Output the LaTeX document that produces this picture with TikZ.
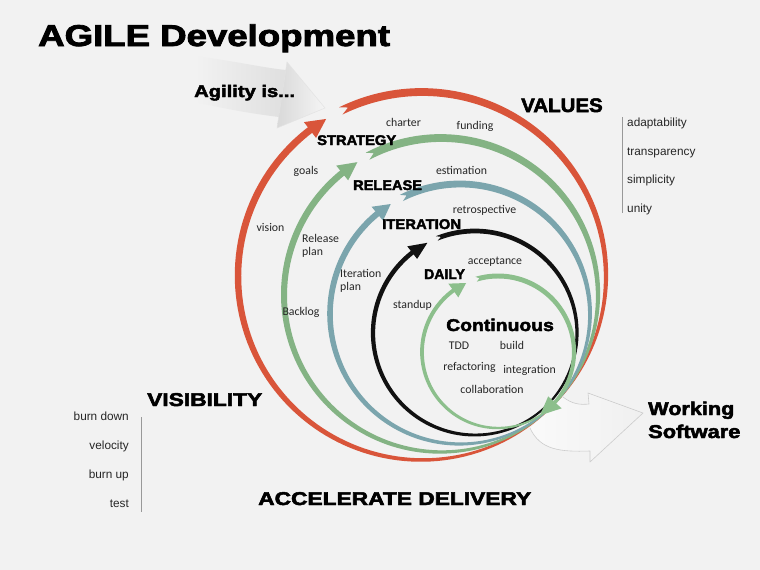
\documentclass[tikz,border=0pt]{standalone}
\usepackage{fontspec}
\setmainfont{Carlito}
\newfontfamily\listfont{Liberation Sans}
\newfontfamily\heavyfont{Liberation Sans}[BoldFeatures={FakeBold=2.6}]
\definecolor{bg}{HTML}{F2F2F2}
\definecolor{ringred}{HTML}{D9553A}
\definecolor{ringgreen}{HTML}{84B384}
\definecolor{ringteal}{HTML}{7BA5AD}
\definecolor{ringsmall}{HTML}{8CBF8C}
\definecolor{ringblack}{HTML}{111111}
\definecolor{txt}{HTML}{262626}
\newcommand\hv[3]{\scalebox{#1}[1]{\heavyfont\bfseries\fontsize{#2}{#2}\selectfont #3}}
% band: #1 cx, #2 cy, #3 r, #4 thetaP, #5 thetaF, #6 w0, #7 wmax  (outer F->P, inner P->F)
\newcommand\bandshape[7]{%
  plot[domain=#5:#4,samples=90,variable=\t]
   ({#1+(#3+0.5*(#6+(#7-#6)*sin((\t-#4)/(#5-#4)*90)))*cos(\t)},
    {#2+(#3+0.5*(#6+(#7-#6)*sin((\t-#4)/(#5-#4)*90)))*sin(\t)})
  -- plot[domain=#4:#5,samples=90,variable=\t]
   ({#1+(#3-0.5*(#6+(#7-#6)*sin((\t-#4)/(#5-#4)*90)))*cos(\t)},
    {#2+(#3-0.5*(#6+(#7-#6)*sin((\t-#4)/(#5-#4)*90)))*sin(\t)})}
% arrow head: #1 colour, #2 cx, #3 cy, #4 r, #5 theta base, #6 theta tip, #7 half width
\newcommand\ahead[7]{%
  \fill[#1] ({#2+(#4+#7)*cos(#5)},{#3+(#4+#7)*sin(#5)})
    -- ({#2+#4*cos(#6)},{#3+#4*sin(#6)})
    -- ({#2+(#4-#7)*cos(#5)},{#3+(#4-#7)*sin(#5)}) -- cycle;}
% notch point: #1 cx #2 cy #3 r #4 theta
\newcommand\notchpt[4]{({#1+#3*cos(#4+2.5)},{#2+#3*sin(#4+2.5)})}
\tikzset{
  lbl/.style={anchor=base, inner sep=0, text=txt, font=\fontsize{11.8}{13}\selectfont},
  lst/.style={inner sep=0, text=txt, font=\listfont\fontsize{11.8}{13}\selectfont},
  heavy/.style={anchor=base west, inner sep=0, text=black},
  sepline/.style={draw=gray!80, line width=1pt}
}
\begin{document}
\begin{tikzpicture}[x=1pt,y=-1pt]
\fill[bg] (0,0) rectangle (760,570);
\useasboundingbox (0,0) rectangle (760,570);

% ---- gray arrow "Agility is..."
\shade[left color=bg, right color=gray!25] (195,56) .. controls (240,62) and (265,68) .. (286,70)
   -- (279,117) .. controls (255,114) and (230,110) .. (195,102) -- cycle;
\shade[left color=gray!30, right color=gray!8, draw=gray!22, line width=0.5pt]
   (287,62) -- (325,108) -- (277,128) -- cycle;

% ---- gray arrow "Working Software"
\shade[left color=white!60!bg, middle color=gray!34, right color=gray!12]
   (530,428) -- (563,397) .. controls (572,404) and (580,405) .. (589,404)
   -- (588,393) -- (643,413) -- (590,462) -- (590,451)
   .. controls (560,452) and (540,450) .. (530,428) -- cycle;
\draw[gray!40, line width=0.6pt, line join=round]
   (563,397) .. controls (572,404) and (580,405) .. (589,404)
   -- (588,393) -- (643,413) -- (590,462) -- (590,451)
   .. controls (560,452) and (540,450) .. (530,428);

% ---- red ring
\fill[ringred] \bandshape{422}{276}{184}{45}{233}{1.5}{7} -- cycle;
\ahead{ringred}{422}{276}{184}{232.5}{238.6}{10}
\fill[ringred] \bandshape{422}{276}{184}{405}{243.8}{1.5}{8} -- \notchpt{422}{276}{184}{243.8} -- cycle;

% ---- green ring
\fill[ringgreen] \bandshape{441}{295}{157}{45}{231.6}{1.5}{6.5} -- cycle;
\ahead{ringgreen}{441}{295}{157}{231}{237.8}{9.5}
\fill[ringgreen] \bandshape{441}{295}{157}{405}{242.1}{1.5}{8} -- \notchpt{441}{295}{157}{242.1} -- cycle;

% ---- teal ring
\fill[ringteal] \bandshape{460}{314}{130}{45}{231}{1.5}{6} -- cycle;
\ahead{ringteal}{460}{314}{130}{230.5}{237.8}{9}
\fill[ringteal] \bandshape{460}{314}{130}{405}{243.2}{1.5}{7} -- \notchpt{460}{314}{130}{243.2} -- cycle;

% ---- black ring
\fill[ringblack] \bandshape{475}{333}{102}{45}{232.5}{2}{4.5} -- cycle;
\ahead{ringblack}{475}{333}{102}{232}{242.2}{8}
\fill[ringblack] \bandshape{475}{333}{102}{405}{248}{2}{4.8} -- \notchpt{475}{333}{102}{248} -- cycle;

% ---- small green ring
\fill[ringsmall] \bandshape{498}{352}{76}{45}{234.5}{1.5}{4} -- cycle;
\ahead{ringsmall}{498}{352}{76}{234}{245.2}{8.5}
\fill[ringsmall] \bandshape{498}{352}{76}{402}{253.3}{3.5}{5} -- \notchpt{498}{352}{76}{253.3} -- cycle;
\ahead{ringsmall}{498}{352}{76}{401.5}{416.5}{9}

% ---- heavy labels
\node[heavy] (title) at (38,46) {\hv{1.22}{30}{AGILE Development}};
\node[heavy] (agility) at (194,97) {\hv{1.2}{16.8}{Agility is...}};
\node[heavy] (values) at (521,112) {\hv{1.05}{19.5}{VALUES}};
\node[heavy] (strategy) at (317,145) {\hv{1.05}{14}{STRATEGY}};
\node[heavy] (release) at (353,190) {\hv{1.04}{14}{RELEASE}};
\node[heavy] (iteration) at (382,229) {\hv{1.06}{14}{ITERATION}};
\node[heavy] (daily) at (424,279) {\hv{1.0}{14}{DAILY}};
\node[heavy] (continuous) at (446,331) {\hv{1.14}{17}{Continuous}};
\node[heavy] (visibility) at (147,406) {\hv{1.23}{18.5}{VISIBILITY}};
\node[heavy] (accel) at (258,505) {\hv{1.23}{18.5}{ACCELERATE DELIVERY}};
\node[heavy] (working) at (648,415) {\hv{1.17}{18.5}{Working}};
\node[heavy] (software) at (648,438) {\hv{1.18}{18.5}{Software}};

% ---- small labels
\node[lbl] (charter) at (403.5,126) {charter};
\node[lbl] (funding) at (475,129.5) {funding};
\node[lbl] (goals) at (306,174) {goals};
\node[lbl] (estimation) at (461.5,174.5) {estimation};
\node[lbl] (vision) at (270.5,231) {vision};
\node[lbl, anchor=base west] (rel1) at (302,242.5) {Release};
\node[lbl, anchor=base west] (rel2) at (302,255.5) {plan};
\node[lbl] (retro) at (484.5,213) {retrospective};
\node[lbl, anchor=base west] (it1) at (340,277.5) {Iteration};
\node[lbl, anchor=base west] (it2) at (340,290.5) {plan};
\node[lbl] (accept) at (495,264) {acceptance};
\node[lbl] (standup) at (412.5,308) {standup};
\node[lbl] (backlog) at (301,315) {Backlog};
\node[lbl] (tdd) at (459,349.5) {TDD};
\node[lbl] (build) at (512,349.5) {build};
\node[lbl] (refact) at (469.5,370.5) {refactoring};
\node[lbl] (integr) at (529.5,373.5) {integration};
\node[lbl] (collab) at (492,393.5) {collaboration};

% ---- values list
\coordinate (vtop) at (622,117);
\coordinate (vbot) at (622,213);
\draw[sepline] (vtop) -- (vbot);
\node[lst, anchor=base west] (v1) at (627,126.7) {adaptability};
\node[lst, anchor=base west] (v2) at (627,155.3) {transparency};
\node[lst, anchor=base west] (v3) at (627,183.9) {simplicity};
\node[lst, anchor=base west] (v4) at (627,212.5) {unity};

% ---- visibility list
\coordinate (ltop) at (141,417);
\coordinate (lbot) at (141,512);
\draw[sepline] (ltop) -- (lbot);
\node[lst, anchor=base east] (b1) at (129,420) {burn down};
\node[lst, anchor=base east] (b2) at (129,449) {velocity};
\node[lst, anchor=base east] (b3) at (129,478) {burn up};
\node[lst, anchor=base east] (b4) at (129,507) {test};
\end{tikzpicture}
\end{document}
